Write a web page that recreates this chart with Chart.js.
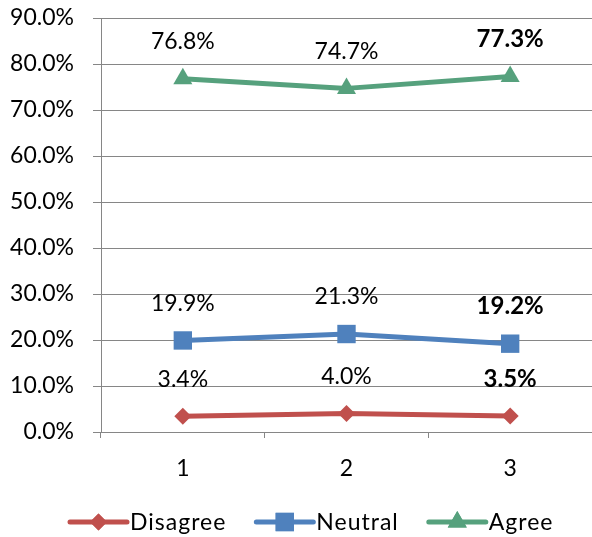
<!DOCTYPE html>
<html>
<head>
<meta charset="utf-8">
<script src="https://cdn.jsdelivr.net/npm/chart.js@4"></script>
<style>
  html, body { margin: 0; padding: 0; background: #ffffff; }
  #c { display: block; }
</style>
</head>
<body>
<canvas id="c" width="592" height="537"></canvas>
<script>
// Survey response shares per round (percent)
const categories = ['1', '2', '3'];
const seriesNames = ['Disagree', 'Neutral', 'Agree'];
const disagree = [3.4, 4.0, 3.5];
const neutral = [19.9, 21.3, 19.2];
const agree = [76.8, 74.7, 77.3];
const yTickValues = [0, 10, 20, 30, 40, 50, 60, 70, 80, 90];

const FONT = 'Lato, "Open Sans", sans-serif';
const FONT_SIZE = 23;
const GRID = '#868686';
const colors = { Disagree: '#C0504D', Neutral: '#4F81BD', Agree: '#56A17D' };
const markers = { Disagree: { style: 'rectRot', r: 8.5 }, Neutral: { style: 'rect', r: 13 }, Agree: { style: 'triangle', r: 11 } };
const values = { Disagree: disagree, Neutral: neutral, Agree: agree };

const pct = v => v.toFixed(1) + '%';

// Value labels above each point; the last round is emphasised in bold
const valueLabels = {
  id: 'valueLabels',
  afterDatasetsDraw(chart) {
    const ctx = chart.ctx;
    ctx.save();
    ctx.fillStyle = '#000';
    ctx.textAlign = 'center';
    ctx.textBaseline = 'middle';
    chart.data.datasets.forEach((ds, di) => {
      const meta = chart.getDatasetMeta(di);
      meta.data.forEach((pt, i) => {
        const last = i === categories.length - 1;
        ctx.font = (last ? 'bold ' : '') + (last ? FONT_SIZE + 1 : FONT_SIZE) + 'px ' + FONT;
        ctx.fillText(pct(ds.data[i]), pt.x, pt.y - 37);
      });
    });
    ctx.restore();
  }
};

// Legend row: line segment with marker, followed by series name
const lineLegend = {
  id: 'lineLegend',
  afterDraw(chart) {
    const ctx = chart.ctx;
    const y = 522;
    let x = 70;
    const segLen = 57;
    ctx.save();
    ctx.font = FONT_SIZE + 'px ' + FONT;
    ctx.letterSpacing = '1px';
    ctx.textBaseline = 'middle';
    ctx.textAlign = 'left';
    seriesNames.forEach(name => {
      const col = colors[name];
      ctx.strokeStyle = col;
      ctx.lineWidth = 5;
      ctx.lineCap = 'round';
      ctx.beginPath();
      ctx.moveTo(x, y);
      ctx.lineTo(x + segLen, y);
      ctx.stroke();
      const m = markers[name];
      ctx.fillStyle = col;
      ctx.beginPath();
      Chart.helpers.drawPoint(ctx, { pointStyle: m.style, radius: m.r, borderWidth: 0, rotation: 0 }, x + segLen / 2, y);
      ctx.fill();
      ctx.fillStyle = '#000';
      ctx.fillText(name, x + segLen + 3, y + 1);
      x += segLen + 3 + ctx.measureText(name).width + 30;
    });
    ctx.restore();
  }
};

// Keep the plot area exactly inside the layout padding
function noOverflow(scale) {
  scale.paddingTop = 0;
  scale.paddingBottom = 0;
  scale.paddingLeft = 0;
  scale.paddingRight = 0;
}

new Chart(document.getElementById('c'), {
  type: 'line',
  data: {
    labels: categories,
    datasets: seriesNames.map(name => ({
      label: name,
      data: values[name],
      borderColor: colors[name],
      backgroundColor: colors[name],
      borderWidth: 5,
      borderCapStyle: 'round',
      borderJoinStyle: 'round',
      pointStyle: markers[name].style,
      pointRadius: markers[name].r,
      pointHoverRadius: markers[name].r,
      pointBorderWidth: 0,
      pointBackgroundColor: colors[name],
      tension: 0,
      fill: false
    }))
  },
  options: {
    responsive: false,
    animation: false,
    layout: { autoPadding: false, padding: { top: 18, right: -3, left: 0, bottom: 55 } },
    plugins: {
      legend: { display: false },
      tooltip: { enabled: false }
    },
    scales: {
      y: {
        min: 0,
        max: 90,
        afterFit(scale) { scale.width = 101; noOverflow(scale); },
        afterBuildTicks(scale) { scale.ticks = yTickValues.map(v => ({ value: v })); },
        ticks: {
          callback: v => pct(v),
          color: '#000',
          padding: 19,
          font: { family: FONT, size: FONT_SIZE }
        },
        grid: { color: GRID, lineWidth: 1, tickLength: 8, drawTicks: true },
        border: { display: true, color: GRID, width: 1 }
      },
      x: {
        offset: true,
        afterFit(scale) { scale.height = 50; noOverflow(scale); },
        ticks: {
          color: '#000',
          padding: 17,
          font: { family: FONT, size: FONT_SIZE }
        },
        grid: { drawOnChartArea: false, offset: true, tickLength: 6, color: GRID, lineWidth: 1 },
        border: { display: true, color: GRID, width: 1 }
      }
    }
  },
  plugins: [valueLabels, lineLegend]
});
</script>
</body>
</html>
